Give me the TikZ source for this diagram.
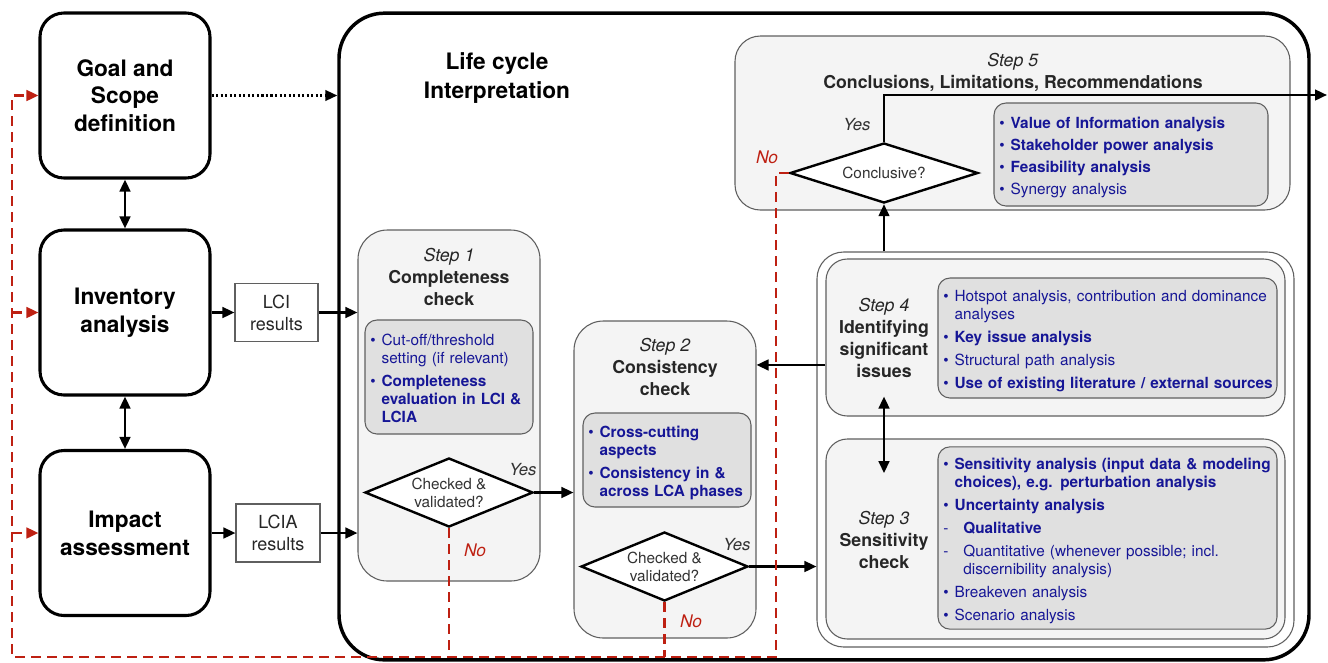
\documentclass[tikz,border=0pt]{standalone}
\usepackage{fontspec}
\setmainfont{TeX Gyre Heros}
\usepackage{tikz}
\usetikzlibrary{shapes.geometric,arrows.meta}

\definecolor{fbred}{RGB}{190,32,18}
\definecolor{itemblue}{RGB}{22,22,150}
\definecolor{stepgray}{RGB}{244,244,244}
\definecolor{listgray}{RGB}{224,224,224}
\definecolor{edgegray}{RGB}{95,95,95}

\newcommand{\lcaphasefont}{\fontsize{17pt}{20.8pt}\selectfont\bfseries}
\newcommand{\lcatitlefont}{\fontsize{13.3pt}{16.5pt}\selectfont}
\newcommand{\lcalistfont}{\fontsize{11.5pt}{13.5pt}\selectfont}
\newcommand{\itembul}{\makebox[8.5pt][l]{\textbullet}}
\newcommand{\itemcont}{\hspace*{8.5pt}}
\newcommand{\itemdash}{\makebox[15pt][l]{-}}
\newcommand{\dashcont}{\hspace*{15pt}}
\newcommand{\topstrut}{\rule{0pt}{13pt}}

\tikzset{
  phase/.style={draw, line width=2.3pt, rounded corners=18pt, minimum width=127.5pt, minimum height=123.75pt, align=center, font=\lcaphasefont},
  result/.style={draw=edgegray, line width=0.8pt, align=center, inner sep=0pt, text=black!85, font=\fontsize{13.5pt}{16.5pt}\selectfont},
  stepbox/.style={draw=edgegray, fill=stepgray, line width=0.8pt, rounded corners=22pt},
  listbox/.style={draw=edgegray, fill=listgray, line width=0.8pt, rounded corners=9pt, align=left, inner sep=4pt, text=itemblue, font=\lcalistfont},
  steptitle/.style={align=center, text=black!85, font=\lcatitlefont},
  check/.style={diamond, aspect=2.4, draw, fill=white, line width=1.8pt, inner sep=0pt, align=center, text=black!80, font=\lcalistfont},
  arr/.style={->, >={Triangle[length=9pt,width=8pt]}, line width=1.8pt},
  dblarr/.style={<->, >={Triangle[length=9pt,width=8pt]}, line width=1.8pt},
  back/.style={->, >={Triangle[length=9pt,width=8pt]}, line width=1.9pt, fbred, dash pattern=on 7.5pt off 4.5pt},
  yes/.style={text=black!80, font=\fontsize{12.5pt}{14pt}\selectfont\itshape},
  no/.style={text=fbred, font=\fontsize{13pt}{14pt}\selectfont\itshape}
}

\begin{document}
\begin{tikzpicture}[x=0.75pt, y=-0.75pt]
\useasboundingbox (0,0) rectangle (1328,662);

% LCA phases
\node[phase] (goal) at (125,95.5) {Goal and\\Scope\\definition};
\node[phase] (inv) at (125,312.5) {Inventory\\analysis};
\node[phase] (imp) at (125,533) {Impact\\assessment};
\node[result, minimum width=62.25pt, minimum height=43.5pt] (lci) at (276.5,312.5) {LCI\\results};
\node[result, minimum width=63pt, minimum height=43.5pt] (lcia) at (278,533) {LCIA\\results};

% interpretation frame
\node[draw, line width=2.6pt, rounded corners=34pt, minimum width=727.5pt, minimum height=485pt] (interp) at (824,336.5) {};
\node[align=center, font=\fontsize{17pt}{21.8pt}\selectfont\bfseries] (lcint) at (497,78) {Life cycle\\Interpretation};

% step 1
\node[stepbox, minimum width=136.5pt, minimum height=263.25pt] (s1) at (449,405.5) {};
\node[steptitle] (s1t) at (449,277) {\textit{Step 1}\\\textbf{Completeness}\\\textbf{check}};
\node[listbox, minimum width=126pt, minimum height=85.5pt, text width=118pt] (s1l) at (449,377) {%
\rule{0pt}{11pt}\itembul Cut-off/threshold\\
\itemcont setting (if relevant)\\[3.75pt]
\itembul\textbf{Completeness}\\
\itemcont\textbf{evaluation in LCI \&}\\
\itemcont\textbf{LCIA}};
\node[check, minimum width=126pt, minimum height=51.75pt] (d1) at (449,492.5) {Checked \&\\validated?};
\node[yes] (y1) at (523,470) {Yes};
\node[no] (n1) at (475,550) {No};

% step 2
\node[stepbox, minimum width=136.5pt, minimum height=237.75pt] (s2) at (665,479.5) {};
\node[steptitle] (s2t) at (665,367) {\textit{Step 2}\\\textbf{Consistency}\\\textbf{check}};
\node[listbox, minimum width=126pt, minimum height=70.5pt, text width=118pt] (s2l) at (667,460) {%
\topstrut\itembul\textbf{Cross-cutting}\\
\itemcont\textbf{aspects}\\[3.75pt]
\itembul\textbf{Consistency in \&}\\
\itemcont\textbf{across LCA phases}};
\node[check, minimum width=125.25pt, minimum height=51.75pt] (d2) at (664.5,566.5) {Checked \&\\validated?};
\node[yes] (y2) at (737,545) {Yes};
\node[no] (n2) at (691,621) {No};

% step 5
\node[stepbox, rounded corners=19pt, minimum width=416.25pt, minimum height=130.5pt] (s5) at (1012.5,123) {};
\node[steptitle] (s5t) at (1013,72) {\textit{Step 5}\\\textbf{Conclusions, Limitations, Recommendations}};
\node[check, minimum width=141pt, minimum height=45pt] (d5) at (884,173) {Conclusive?};
\node[listbox, minimum width=205.5pt, minimum height=77.25pt, text width=197.5pt] (s5l) at (1131,154.5) {%
\topstrut\itembul\textbf{Value of Information analysis}\\[3pt]
\itembul\textbf{Stakeholder power analysis}\\[3pt]
\itembul\textbf{Feasibility analysis}\\[3pt]
\itembul Synergy analysis};
\node[yes] (y5) at (857,125) {Yes};
\node[no] (n5) at (767,157) {No};

% steps 4 and 3
\node[draw=edgegray, fill=white, line width=0.8pt, rounded corners=20pt, minimum width=357.75pt, minimum height=296.25pt] (grp) at (1055.5,449.5) {};
\node[stepbox, rounded corners=16pt, minimum width=344.25pt, minimum height=117.75pt] (s4) at (1055.5,337.5) {};
\node[steptitle] (s4t) at (884,338) {\textit{Step 4}\\\textbf{Identifying}\\\textbf{significant}\\\textbf{issues}};
\node[listbox, minimum width=254.25pt, minimum height=90pt, text width=246.25pt] (s4l) at (1107.5,338) {%
\topstrut\itembul Hotspot analysis, contribution and dominance\\
\itemcont analyses\\[3.75pt]
\itembul\textbf{Key issue analysis}\\[3.75pt]
\itembul Structural path analysis\\[3.75pt]
\itembul\mbox{\textbf{Use of existing literature / external sources}}};
\node[stepbox, rounded corners=16pt, minimum width=344.25pt, minimum height=150pt] (s3) at (1055.5,539) {};
\node[steptitle] (s3t) at (884,540) {\textit{Step 3}\\\textbf{Sensitivity}\\\textbf{check}};
\node[listbox, minimum width=254.25pt, minimum height=136.5pt, text width=246.25pt] (s3l) at (1107.5,538) {%
\topstrut\itembul\textbf{Sensitivity analysis (input data \& modeling}\\
\itemcont\textbf{choices), e.g. perturbation analysis}\\[3.75pt]
\itembul\textbf{Uncertainty analysis}\\[3.75pt]
\itemdash\textbf{Qualitative}\\[3.75pt]
\itemdash Quantitative (whenever possible; incl.\\
\dashcont discernibility analysis)\\[3.75pt]
\itembul Breakeven analysis\\[3.75pt]
\itembul Scenario analysis};

% connectors
\draw[dblarr] (goal) -- (inv);
\draw[dblarr] (inv) -- (imp);
\draw[arr] (inv) -- (lci);
\draw[arr] (lci) -- (lci -| s1.west);
\draw[arr] (imp) -- (lcia);
\draw[arr] (lcia) -- (lcia -| s1.west);
\draw[arr, line width=1.6pt, dash pattern=on 1.6pt off 1.8pt] (goal) -- (goal -| interp.west);

\draw[arr] (d1) -- (d1 -| s2.west);
\draw[arr] (d2) -- (d2 -| grp.west);
\draw[arr] ([yshift=-20.6pt]s4.west) -- ([yshift=-20.6pt]s4.west -| s2.east);
\coordinate (s4low) at (s4t |- s4.south);
\coordinate (s3high) at (s4t |- s3.north);
\draw[dblarr] ([yshift=15pt]s4low) -- ([yshift=-26pt]s3high);
\draw[arr] (d5 |- grp.north) -- (d5.south);
\coordinate (exit) at (1327,95);
\draw[arr] (d5.north) |- (exit);

% feedback loops
\coordinate (fbl) at (12,657);
\coordinate (fbr) at (776,657);
\draw[back, -] (d1.south) -- (d1.south |- fbl);
\draw[back, -] (d2.south) -- (d2.south |- fbl);
\draw[back] (d5.west) -| (fbr) -- (fbl) |- (goal.west);
\draw[back] (fbl |- inv.west) -- (inv.west);
\draw[back] (fbl |- imp.west) -- (imp.west);
\end{tikzpicture}
\end{document}
